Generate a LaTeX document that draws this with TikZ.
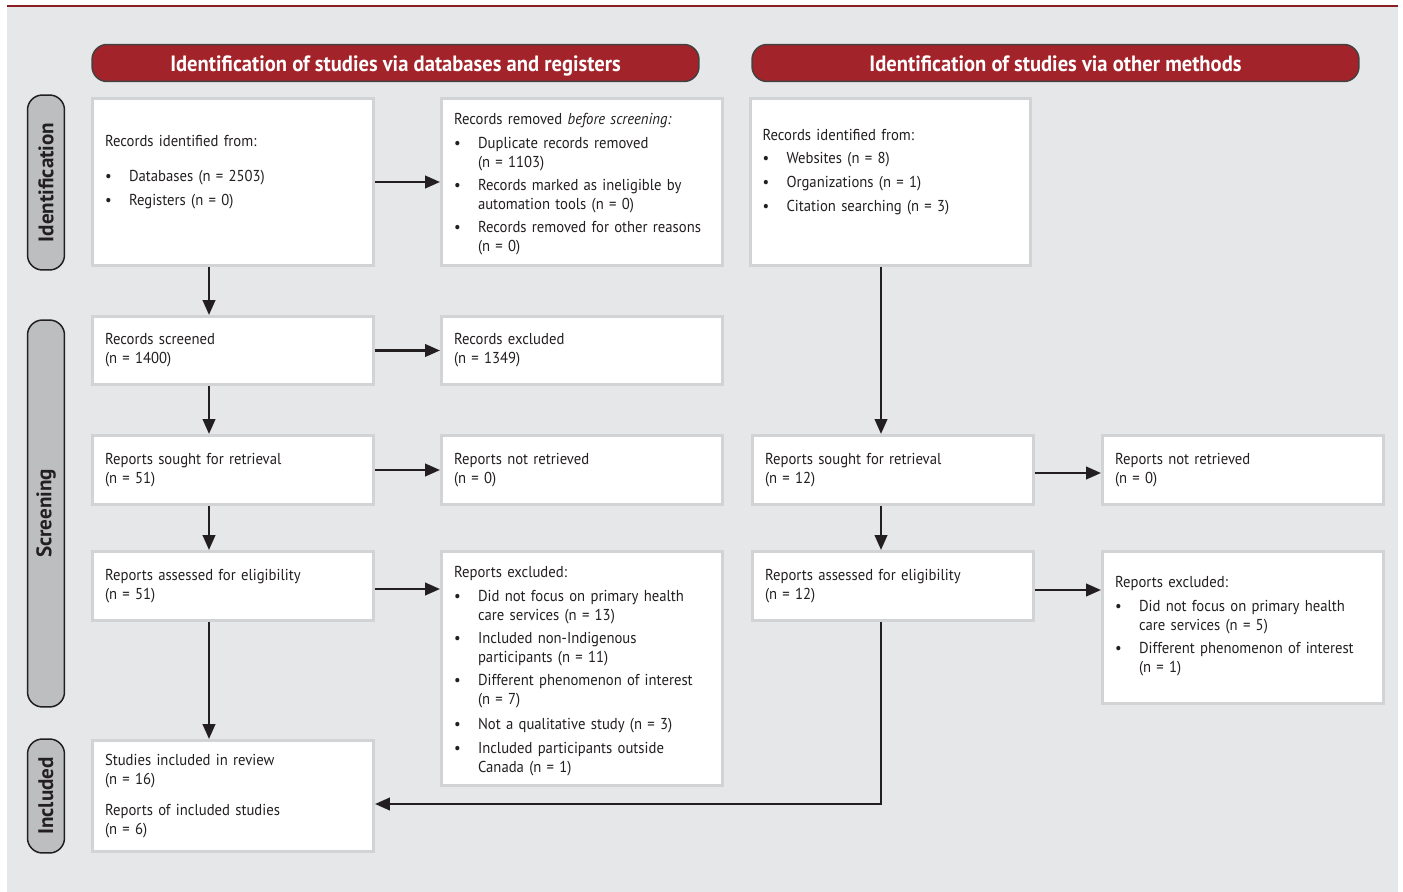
\documentclass[tikz,border=0pt]{standalone}
\usepackage{fontspec}
\setmainfont{PT Sans}[FakeStretch=0.93]
\newfontfamily\stagefont{PT Sans}
\usetikzlibrary{arrows.meta}

\definecolor{prismared}{HTML}{A3232A}
\definecolor{panelgray}{HTML}{E6E7E8}
\definecolor{boxline}{HTML}{D1D3D4}
\definecolor{stagegray}{HTML}{BCBEC0}
\definecolor{inkdark}{HTML}{231F20}

\newcommand{\bitem}[1]{\par\vspace{2.6pt}\noindent\hbox to 0.48cm{\textbullet\hfil}\parbox[t]{4.64cm}{\raggedright #1\strut}}

\begin{document}
\begin{tikzpicture}[x=0.02cm, y=-0.02cm,
   box/.style={draw=boxline, line width=0.06cm, fill=white, minimum width=5.62cm,
      text width=5.12cm, inner xsep=0.25cm, inner ysep=0.1cm, align=left,
      text=inkdark, font=\fontsize{9}{10.8}\selectfont},
   header/.style={draw=inkdark!85, line width=0.03cm, fill=prismared, rounded corners=0.3cm,
      minimum width=12.14cm, minimum height=0.74cm, text=white, text height=0.36cm, text depth=0.02cm,
      font=\fontsize{12.6}{14}\selectfont\bfseries},
   stage/.style={draw=inkdark, line width=0.03cm, fill=stagegray, rounded corners=0.3cm,
      rotate=90, minimum height=0.74cm, text=inkdark,
      font=\stagefont\fontsize{12}{14}\selectfont\bfseries},
   flow/.style={draw=inkdark, line width=0.05cm, -{Triangle[length=0.3cm,width=0.25cm]}}]

\useasboundingbox (0,0) rectangle (1403,892);
\fill[panelgray] (7,7) rectangle (1398,892);
\draw[prismared!85!black, line width=0.05cm] (7,6) -- (1398,6);

% headers and stages
\node[header] (dbhead) at (395.5,63) {Identification of studies via databases and registers};
\node[header] (othhead) at (1055.5,63) {Identification of studies via other methods};
\node[stage, minimum width=3.5cm] (sident) at (46,182.5) {Identification};
\node[stage, minimum width=7.74cm] (sscreen) at (46,513.5) {Screening};
\node[stage, minimum width=2.28cm] (sincl) at (46,796) {Included};

% databases and registers
\node[box, minimum height=3.34cm] (ident) at (233,182) {Records identified from:\par\vspace{7pt}
   \bitem{Databases (n = 2503)}
   \bitem{Registers (n = 0)}\par\vspace{0.36cm}};
\node[box, minimum height=3.34cm] (removed) at (582,182) {\rule{0pt}{10.2pt}Records removed \emph{before screening:}
   \bitem{Duplicate records removed\\(n = 1103)}
   \bitem{Records marked as ineligible by\\automation tools (n = 0)}
   \bitem{Records removed for other reasons\\(n = 0)}};
\node[box, minimum height=1.36cm] (screened) at (233,350.5) {Records screened\\(n = 1400)};
\node[box, minimum height=1.36cm] (excluded) at (582,350.5) {Records excluded\\(n = 1349)};
\node[box, minimum height=1.38cm] (sought) at (233,470) {Reports sought for retrieval\\(n = 51)};
\node[box, minimum height=1.38cm] (notretr) at (582,470) {Reports not retrieved\\(n = 0)};
\node[box, minimum height=1.38cm] (assessed) at (233,586) {Reports assessed for eligibility\\(n = 51)};
\node[box, minimum height=4.68cm] (repexcl) at (582,668.5) {\rule{0pt}{10.8pt}Reports excluded:
   \bitem{Did not focus on primary health\\care services (n = 13)}
   \bitem{Included non-Indigenous\\participants (n = 11)}
   \bitem{Different phenomenon of interest\\(n = 7)}
   \bitem{Not a qualitative study (n = 3)}
   \bitem{Included participants outside\\Canada (n = 1)}};
\node[box, minimum height=2.22cm] (included) at (233,796) {Studies included in review\\(n = 16)\par\vspace{0.24cm}
   Reports of included studies\\(n = 6)};

% other methods
\node[box, minimum height=3.34cm] (othident) at (890.5,182) {Records identified from:
   \bitem{Websites (n = 8)}
   \bitem{Organizations (n = 1)}
   \bitem{Citation searching (n = 3)}\par\vspace{0.36cm}};
\node[box, minimum height=1.38cm] (othsought) at (893,470) {Reports sought for retrieval\\(n = 12)};
\node[box, minimum height=1.38cm] (othnotretr) at (1243,470) {Reports not retrieved\\(n = 0)};
\node[box, minimum height=1.38cm] (othassessed) at (893,586) {Reports assessed for eligibility\\(n = 12)};
\node[box, minimum height=3.04cm] (othrepexcl) at (1243,627.5) {Reports excluded:
   \bitem{Did not focus on primary health\\care services (n = 5)}
   \bitem{Different phenomenon of interest\\(n = 1)}};

% connectors
\draw[flow] (ident) -- (removed);
\draw[flow] (screened) -- (excluded);
\draw[flow] (sought) -- (notretr);
\draw[flow] ([yshift=-0.06cm]assessed.east) -- ([yshift=-0.06cm]assessed.east -| repexcl.west);
\draw[flow] ([xshift=-0.48cm]ident.south) -- ([xshift=-0.48cm]screened.north);
\draw[flow] ([xshift=-0.48cm]screened.south) -- ([xshift=-0.48cm]sought.north);
\draw[flow] ([xshift=-0.48cm]sought.south) -- ([xshift=-0.48cm]assessed.north);
\draw[flow] ([xshift=-0.48cm]assessed.south) -- ([xshift=-0.48cm]included.north);
\draw[flow] ([xshift=-0.24cm]othsought.north |- othident.south) -- ([xshift=-0.24cm]othsought.north);
\draw[flow] ([xshift=-0.24cm]othsought.south) -- ([xshift=-0.24cm]othassessed.north);
\draw[flow] ([yshift=-0.06cm]othsought.east) -- ([yshift=-0.06cm]othsought.east -| othnotretr.west);
\draw[flow] ([yshift=-0.08cm]othassessed.east) -- ([yshift=-0.08cm]othassessed.east -| othrepexcl.west);
\draw[flow] ([xshift=-0.24cm]othassessed.south) |- ([yshift=-0.16cm]included.east);

\end{tikzpicture}
\end{document}
